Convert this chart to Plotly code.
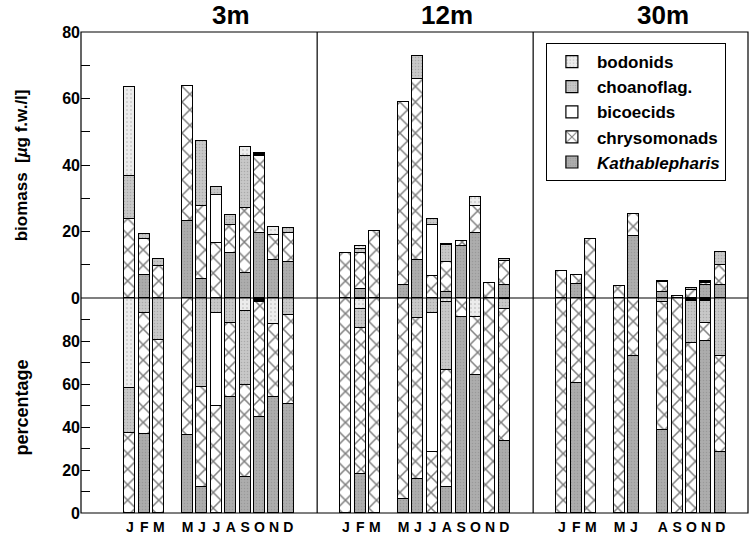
import plotly.graph_objects as go

# ---------------- data ----------------
month_letters = ["J", "F", "M", "A", "M", "J", "J", "A", "S", "O", "N", "D"]
panels = ["3m", "12m", "30m"]

# month indices (0=Jan) sampled at each depth
months_3m = [0, 1, 2, 4, 5, 6, 7, 8, 9, 10, 11]
months_12m = [0, 1, 2, 4, 5, 6, 7, 8, 9, 10, 11]
months_30m = [0, 1, 2, 4, 5, 7, 8, 9, 10, 11]

# total biomass [ug f.w./l]
total_3m = [63.5, 19.2, 11.8, 63.8, 47.3, 33.3, 25.0, 45.3, 43.5, 21.5, 21.2]
total_12m = [13.5, 15.7, 20.3, 58.8, 72.9, 23.7, 16.3, 17.2, 30.3, 4.5, 11.8]
total_30m = [8.0, 7.0, 17.7, 3.7, 25.4, 5.0, 0.5, 3.0, 5.0, 13.7]

# percentage composition per group
kath_3m = [0, 36.7, 0, 36.3, 11.9, 0, 54.1, 16.6, 44.8, 53.8, 50.5]
chry_3m = [37.4, 56.5, 80.5, 63.7, 46.9, 49.8, 34.1, 42.9, 53.5, 34.1, 41.6]
bico_3m = [0, 0, 0, 0, 0, 43.1, 0, 0, 0, 0, 0]
choa_3m = [20.6, 6.8, 19.5, 0, 41.2, 7.1, 11.8, 34.6, 0, 0, 7.9]
bodo_3m = [42.0, 0, 0, 0, 0, 0, 0, 5.9, 0, 12.1, 0]
othr_3m = [0, 0, 0, 0, 0, 0, 0, 0, 1.7, 0, 0]

kath_12m = [0, 18.1, 0, 6.4, 15.7, 0, 11.9, 91.0, 64.2, 0, 33.6]
chry_12m = [100, 68.1, 100, 93.6, 74.8, 28.2, 54.6, 9.0, 26.8, 100, 61.1]
bico_12m = [0, 0, 0, 0, 0, 64.7, 0, 0, 0, 0, 0]
choa_12m = [0, 8.5, 0, 0, 9.5, 7.1, 31.8, 0, 0, 0, 4.7]
bodo_12m = [0, 4.7, 0, 0, 0, 0, 1.7, 0, 9.0, 0, 0]
othr_12m = [0, 0.6, 0, 0, 0, 0, 0, 0, 0, 0, 0.6]

kath_30m = [0, 60.6, 0, 0, 73.0, 38.6, 0, 0, 80.2, 28.5]
chry_30m = [100, 39.4, 100, 100, 27.0, 59.7, 100, 79.2, 8.0, 44.5]
bico_30m = [0, 0, 0, 0, 0, 0, 0, 0, 0, 0]
choa_30m = [0, 0, 0, 0, 0, 1.7, 0, 19.5, 10.3, 27.0]
bodo_30m = [0, 0, 0, 0, 0, 0, 0, 0, 0, 0]
othr_30m = [0, 0, 0, 0, 0, 0, 0, 1.3, 1.5, 0]

months_all = [months_3m, months_12m, months_30m]
totals_all = [total_3m, total_12m, total_30m]
groups = {
    "bodonids": [bodo_3m, bodo_12m, bodo_30m],
    "choanoflag.": [choa_3m, choa_12m, choa_30m],
    "bicoecids": [bico_3m, bico_12m, bico_30m],
    "chrysomonads": [chry_3m, chry_12m, chry_30m],
    "<i>Kathablepharis</i>": [kath_3m, kath_12m, kath_30m],
    "other": [othr_3m, othr_12m, othr_30m],
}

# ---------------- styles ----------------
PANEL_STEP = 15
FONT = "Liberation Sans"
styles = {
    "bodonids": dict(color="#ececec", pattern=dict(shape=".", fgcolor="#707070", bgcolor="#ececec", size=4, solidity=0.12)),
    "choanoflag.": dict(color="#c4c4c4", pattern=dict(shape=".", fgcolor="#8c8c8c", bgcolor="#c8c8c8", size=3, solidity=0.2)),
    "bicoecids": dict(color="white"),
    "chrysomonads": dict(color="white", pattern=dict(shape="x", fgcolor="black", bgcolor="white", size=11, solidity=0.26)),
    "<i>Kathablepharis</i>": dict(color="#a9a9a9", pattern=dict(shape=".", fgcolor="#858585", bgcolor="#adadad", size=3, solidity=0.2)),
    "other": dict(color="black"),
}
stack_order = ["<i>Kathablepharis</i>", "chrysomonads", "bicoecids", "choanoflag.", "bodonids", "other"]
legend_rank = {"bodonids": 1, "choanoflag.": 2, "bicoecids": 3, "chrysomonads": 4, "<i>Kathablepharis</i>": 5}

xs = []
for p, ms in enumerate(months_all):
    xs += [PANEL_STEP * p + m for m in ms]

fig = go.Figure()
for name in stack_order:
    pct, bio = [], []
    for p in range(3):
        for i, v in enumerate(groups[name][p]):
            pct.append(v if v > 0 else None)
            bio.append(totals_all[p][i] * v / 100 if v > 0 else None)
    st = styles[name]
    mk = dict(color=st["color"], line=dict(color="black", width=1.2))
    if "pattern" in st:
        mk["pattern"] = st["pattern"]
    show = name != "other"
    fig.add_trace(go.Bar(x=xs, y=bio, name=name, marker=mk, width=0.76, yaxis="y2",
                         showlegend=show, legendrank=legend_rank.get(name, 9)))
    fig.add_trace(go.Bar(x=xs, y=pct, name=name, marker=mk, width=0.76, yaxis="y",
                         showlegend=False))

LOW_TOP = 215 / 481
tickfont = dict(family=FONT, size=16, color="black", weight="bold")
fig.update_layout(
    width=749, height=539,
    margin=dict(l=81, r=1, t=32, b=26),
    plot_bgcolor="white", paper_bgcolor="white",
    barmode="stack", bargap=0,
    xaxis=dict(range=[-3.4, 42.92], tickvals=xs,
               ticktext=[month_letters[m] for ms in months_all for m in ms],
               tickfont=dict(family=FONT, size=14, color="black", weight="bold"),
               ticklabelstandoff=4,
               showgrid=False, zeroline=False, ticks="", showline=False, anchor="y"),
    yaxis=dict(domain=[0, LOW_TOP], range=[0, 100], tickvals=[0, 20, 40, 60, 80],
               ticks="inside", ticklen=9, tickcolor="black",
               minor=dict(ticks="inside", ticklen=9, tickcolor="black", tickvals=[10, 30, 50, 70, 90]),
               showgrid=False, zeroline=False, showline=False, tickfont=tickfont),
    yaxis2=dict(domain=[LOW_TOP, 1], range=[0, 80], tickvals=[0, 20, 40, 60, 80], anchor="x",
                ticks="inside", ticklen=9, tickcolor="black",
                minor=dict(ticks="inside", ticklen=9, tickcolor="black", tickvals=[10, 30, 50, 70]),
                showgrid=False, zeroline=False, showline=False, tickfont=tickfont),
    legend=dict(x=0.697, y=0.977, xanchor="left", yanchor="top", bgcolor="white",
                bordercolor="black", borderwidth=1, traceorder="normal", itemwidth=40,
                font=dict(family=FONT, size=17, color="black", weight="bold")),
    showlegend=True,
)

# frame and panel dividers
shapes = [dict(type="rect", xref="paper", yref="paper", x0=0, x1=1, y0=0, y1=1,
               line=dict(color="black", width=1.2)),
          dict(type="line", xref="paper", yref="paper", x0=0, x1=1, y0=LOW_TOP, y1=LOW_TOP,
               line=dict(color="black", width=1.2))]
for p in range(1, 3):
    shapes.append(dict(type="line", xref="x", yref="paper", x0=PANEL_STEP * p - 2, x1=PANEL_STEP * p - 2,
                       y0=0, y1=1, line=dict(color="black", width=1.2)))
fig.update_layout(shapes=shapes)

ann = []
for p, name in enumerate(panels):
    ann.append(dict(text=name, x=PANEL_STEP * p + 7, y=1.035, xref="x", yref="paper",
                    xanchor="center", yanchor="middle", showarrow=False,
                    font=dict(family=FONT, size=26, color="black", weight="bold")))
ann.append(dict(text="biomass  [<i>µ</i>g f.w./l]", textangle=-90, x=-0.088, y=0.7235,
                xref="paper", yref="paper", xanchor="center", yanchor="middle", showarrow=False,
                font=dict(family=FONT, size=17, color="black", weight="bold")))
ann.append(dict(text="percentage", textangle=-90, x=-0.088, y=0.22,
                xref="paper", yref="paper", xanchor="center", yanchor="middle", showarrow=False,
                font=dict(family=FONT, size=18, color="black", weight="bold")))
fig.update_layout(annotations=ann)

fig.write_html("out.html", config={"displayModeBar": False},
               post_script="document.body.style.margin='0px';")
